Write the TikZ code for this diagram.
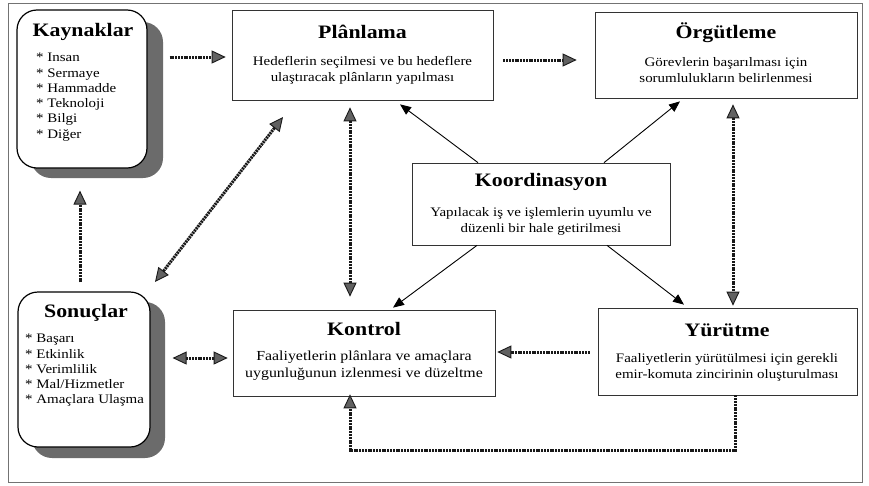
\documentclass[tikz,border=0pt]{standalone}
\usepackage{fontspec}
\setmainfont[FakeStretch=1.15]{Liberation Serif}
\usetikzlibrary{arrows.meta,calc}
\tikzset{
  htip/.tip={Triangle[length=14pt,width=13pt,fill=black!62,line width=0.9pt]},
  stip/.tip={Triangle[length=11pt,width=9pt]},
}
\begin{document}
\begin{tikzpicture}[x=1pt,y=-1pt,
  box/.style={draw=black!80, line width=0.7pt, inner sep=0pt, fill=white},
  rbox/.style={draw=black, line width=1.2pt, fill=white, rounded corners=20pt, inner sep=0pt},
  shadowbox/.style={fill=black!58, rounded corners=20pt},
  ttl/.style={font=\fontsize{19}{21}\selectfont\bfseries, inner sep=0pt},
  txt/.style={font=\fontsize{13}{16}\selectfont, align=center, inner sep=0pt},
  lst/.style={font=\fontsize{13}{15.3}\selectfont, align=left, inner sep=0pt, anchor=north west},
  sarrow/.style={draw=black, line width=0.9pt, -stip},
  harrow/.style={draw=black!90, line width=3pt, dash pattern=on 2pt off 0.8pt, -htip},
  hdarrow/.style={harrow, htip-htip},
]
\useasboundingbox (0,0) rectangle (869,485);
\draw[black!55, line width=0.8pt] (8,3) rectangle (862,482);

% shadows
\fill[shadowbox] (31,22) rectangle (163,178);
\fill[shadowbox] (32,302) rectangle (165,458);

% Kaynaklar
\node[rbox, minimum width=130pt, minimum height=158pt] (kay) at (82,89) {};
\node[ttl] (kayT) at (83,32) {Kaynaklar};
\node[lst] (kayL) at (36,53) {* Insan\\* Sermaye\\* Hammadde\\* Teknoloji\\* Bilgi\\* Diğer};

% Sonuçlar
\node[rbox, minimum width=132pt, minimum height=155pt] (son) at (84,369.5) {};
\node[ttl] (sonT) at (86,313) {Sonuçlar};
\node[lst] (sonL) at (25,334) {* Başarı\\* Etkinlik\\* Verimlilik\\* Mal/Hizmetler\\* Amaçlara Ulaşma};

% Plânlama
\node[box, minimum width=261pt, minimum height=90pt] (plan) at (362.5,55) {};
\node[ttl] (planT) at (362.5,32) {Plânlama};
\node[txt] (planB) at (362.5,70) {Hedeflerin seçilmesi ve bu hedeflere\\ulaştıracak plânların yapılması};

% Örgütleme
\node[box, minimum width=262pt, minimum height=86pt] (org) at (726,55) {};
\node[ttl] (orgT) at (726,33) {Örgütleme};
\node[txt] (orgB) at (726,70) {Görevlerin başarılması için\\sorumlulukların belirlenmesi};

% Koordinasyon
\node[box, minimum width=258pt, minimum height=82pt] (koo) at (541,204) {};
\node[ttl] (kooT) at (541,182) {Koordinasyon};
\node[txt] (kooB) at (541,221) {Yapılacak iş ve işlemlerin uyumlu ve\\düzenli bir hale getirilmesi};

% Kontrol
\node[box, minimum width=262pt, minimum height=86pt] (kon) at (364,353) {};
\node[ttl] (konT) at (364,329) {Kontrol};
\node[txt, font=\fontsize{13.8}{17}\selectfont] (konB) at (364,366) {Faaliyetlerin plânlara ve amaçlara\\uygunluğunun izlenmesi ve düzeltme};

% Yürütme
\node[box, minimum width=259pt, minimum height=87pt] (yur) at (727.5,351.5) {};
\node[ttl] (yurT) at (727,330) {Yürütme};
\node[txt] (yurB) at (727,367) {Faaliyetlerin yürütülmesi için gerekli\\emir-komuta zincirinin oluşturulması};

% helper coordinates
\coordinate (kx) at (80,0);
\coordinate (vx) at (350,0);
\coordinate (wx) at (733,0);
\coordinate (fx) at (735,0);
\coordinate (d1) at (155,282);
\coordinate (d2) at (283,117);
\coordinate (fb) at (350,450);

% hatched arrows
\draw[harrow, shorten <=22pt, shorten >=6pt] (kay.east |- 0,57) -- (plan.west |- 0,57);
\draw[harrow, shorten <=10pt, shorten >=18pt] (plan.east |- 0,60) -- (org.west |- 0,60);
\draw[harrow, shorten <=9pt, shorten >=22pt] (kx |- son.north) -- (kx |- kay.south);
\draw[hdarrow] (d1) -- (d2);
\draw[hdarrow, shorten <=7pt, shorten >=13pt] (vx |- plan.south) -- (vx |- kon.north);
\draw[hdarrow, shorten <=6pt, shorten >=2pt] (wx |- org.south) -- (wx |- yur.north);
\draw[harrow, shorten <=8pt, shorten >=2pt] (yur.west |- 0,352) -- (kon.east |- 0,352);
\draw[hdarrow, shorten <=22pt, shorten >=5pt] (son.east |- 0,358) -- (kon.west |- 0,358);
\draw[harrow, shorten >=-2pt] (fx |- yur.south) |- (fb) -- (fb |- kon.south);

% solid arrows from Koordinasyon
\draw[sarrow] ($(koo.north)+(-63,0)$) -- ($(plan.south)+(37.5,4)$);
\draw[sarrow] ($(koo.north)+(63,0)$) -- ($(org.south)+(-46,3)$);
\draw[sarrow] ($(koo.south)+(-64,0)$) -- ($(kon.north)+(29,-2)$);
\draw[sarrow] ($(koo.south)+(66,0)$) -- ($(yur.north)+(-43.5,-3)$);
\end{tikzpicture}
\end{document}
